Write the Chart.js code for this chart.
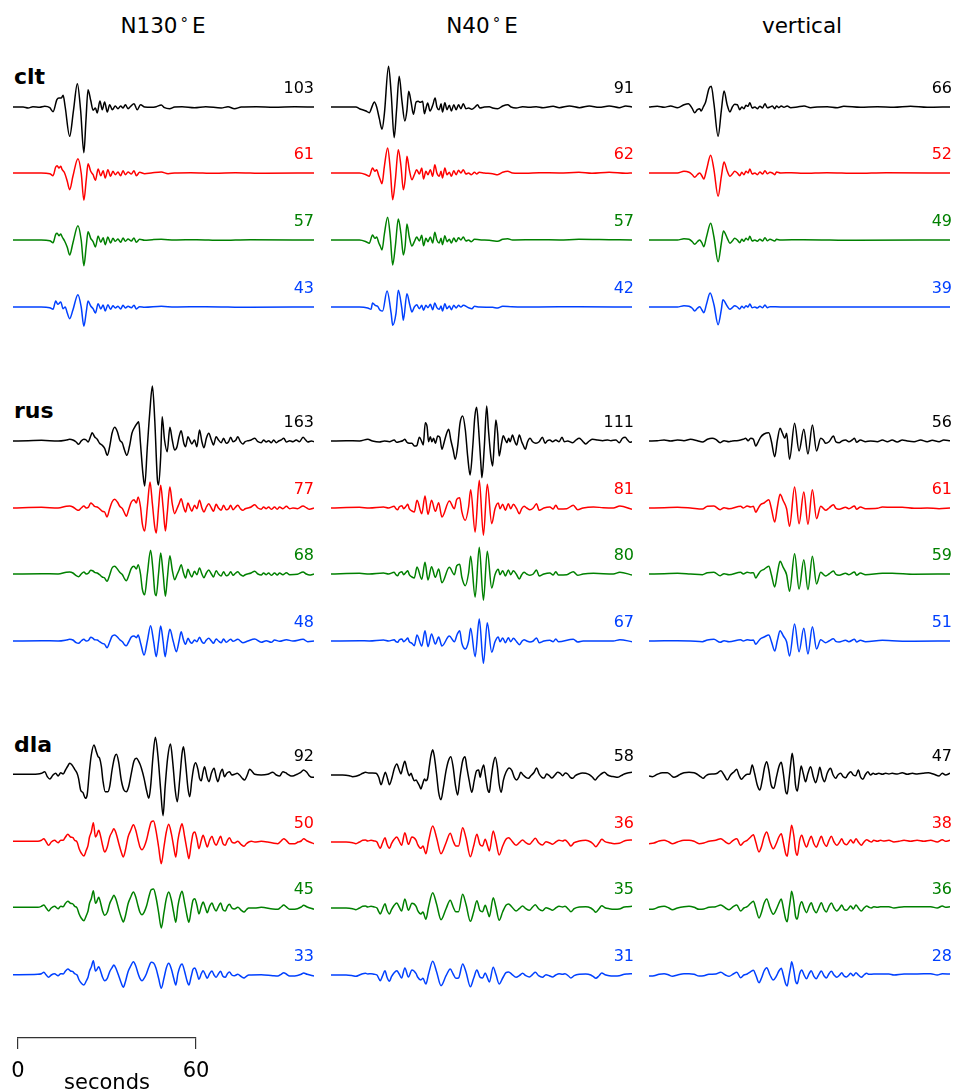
<!DOCTYPE html>
<html>
<head>
<meta charset="utf-8">
<script src="https://cdn.jsdelivr.net/npm/chart.js@4.4.0/dist/chart.umd.min.js"></script>
<style>
  body { margin: 0; background: #fff; }
  #page { position: relative; width: 954px; height: 1091px; overflow: hidden; font-family: "DejaVu Sans", sans-serif; }
  canvas { position: absolute; }
  .lbl { position: absolute; white-space: nowrap; }
  .comp { font-size: 21.5px; line-height: 22px; width: 200px; text-align: center; top: 15px; }
  .deg { font-size: 15px; margin: 0 4px 0 3px; position: relative; top: -4px; }
  .sta { font-size: 22px; font-weight: bold; line-height: 22px; left: 14px; }
  .amp { font-size: 16px; line-height: 16px; width: 60px; text-align: right; }
</style>
</head>
<body>
<div id="page"></div>
<script>
// stations (rows) and components (columns)
const stations = ['clt', 'rus', 'dla'];
const components = ['N130', 'N40', 'vertical'];

// peak amplitudes printed next to each trace: [black, red, green, blue] per component
const clt_amps = [[103, 61, 57, 43], [91, 62, 57, 42], [66, 52, 49, 39]];
const rus_amps = [[163, 77, 68, 48], [111, 81, 80, 67], [56, 61, 59, 51]];
const dla_amps = [[92, 50, 45, 33], [58, 36, 35, 31], [47, 38, 36, 28]];

// time window of every trace (s) and the scale bar ticks
const timeRange = [0, 101.5];
const scaleTicks = [0, 60];

// waveforms: [time s, amplitude] (plot units)
const clt_n130_k = [[0,0],[3.4,0],[5.1,-1],[6.7,0.3],[9,-0.3],[10.7,0.7],[12.4,-0.7],[13.5,-4.7],[14.8,7.3],[15.5,9],[16.3,9],[16.9,11.7],[17.6,0],[19.1,-29.3],[20.4,-3.3],[21.7,23.3],[22.8,-3.3],[23.9,-45.7],[24.6,-13.3],[25.3,17.3],[26.2,6.7],[27,-3.3],[27.8,-1],[28.4,-6],[29.3,6],[30.1,-2.7],[30.9,5],[31.8,-5],[32.6,2.3],[33.5,-2.7],[34.5,1],[35.4,-1.7],[36.3,1],[37.1,-1],[37.9,2.3],[38.8,-1.7],[39.7,0.7],[40.8,3.3],[41.9,-2.7],[43,2.3],[44.4,0],[46.6,-0.3],[48.3,0.3],[50,2],[51.1,-0.7],[52.8,-1.7],[54.5,0],[57,0.3],[61.2,-0.7],[65,0.3],[70.2,-1],[72.5,0.3],[74.7,-1.7],[77,0],[82,0.3],[88,-0.3],[95,0.3],[101.5,0]];
const clt_n130_r = [[0,0],[9.5,0],[12.4,-0.7],[13.5,-2.7],[14.4,6],[14.9,7.3],[15.5,5],[16.1,6.7],[16.6,3.3],[17.4,0],[18.3,-8.3],[19.1,-16.7],[20.2,-3.3],[21.9,14.3],[23,0],[23.9,-27.3],[24.7,-6.7],[25.3,9.3],[26.2,1.7],[27,-1.7],[27.8,-7.3],[28.7,4],[29.6,-2.7],[30.4,2.3],[31.1,-5],[32,3.3],[32.9,-3.3],[33.7,1.7],[34.5,-1.7],[35.4,1],[36.3,-2.7],[37.1,2.3],[37.9,-1.7],[38.8,1],[39.9,-1],[40.8,2.3],[41.6,-2.7],[42.7,0.7],[44.4,-0.7],[46.6,0],[50,1],[52.3,-0.7],[54.5,0],[60,0.3],[68,-0.3],[75,0.3],[85,-0.3],[101.5,0]];
const clt_n130_g = [[0,0],[9.5,0],[12.4,-0.7],[13.5,-2.7],[14.4,5.7],[14.9,6.7],[15.5,4.3],[16.1,6],[16.6,3],[17.4,-1],[18.3,-7.3],[19.1,-15],[20.2,-3],[21.9,14.3],[23,0],[23.9,-25.7],[24.7,-6],[25.3,8.3],[26.2,1.7],[27,-1.7],[27.8,-7],[28.7,4],[29.6,-2.3],[30.4,2.3],[31.1,-4.7],[32,3],[32.9,-3],[33.7,1.7],[34.5,-1.3],[35.4,1],[36.3,-2.3],[37.1,2],[37.9,-1.3],[38.8,1],[39.9,-1],[40.8,2],[41.6,-2.3],[42.7,0.7],[44.4,-0.3],[47,0.3],[50,0.7],[54.5,0],[62,0.3],[70,-0.3],[80,0.3],[101.5,0]];
const clt_n130_b = [[0,0],[9.5,0],[12.4,-0.7],[13.5,-2.3],[14.4,6],[15.1,2.7],[16.1,5],[16.9,-1.7],[17.6,0],[18.3,-6],[19.1,-11.7],[20.2,-3],[21.9,12.3],[23,0],[23.9,-19.3],[24.7,-5],[25.3,6],[26.2,1],[27,-1.7],[27.8,-6],[28.7,3.3],[29.6,-2],[30.4,2],[31.1,-4],[32,2.3],[32.9,-2.3],[33.7,1.3],[34.5,-1],[35.4,0.7],[36.3,-2],[37.1,1.7],[37.9,-1],[38.8,0.7],[39.9,-0.7],[40.8,1.7],[41.6,-2],[42.7,0.3],[44.4,-0.3],[50,0.7],[54.5,0],[65,0.3],[80,-0.3],[101.5,0]];

const clt_n40_k = [[0,0],[8.4,0],[9.6,-1.7],[11.8,-4],[12.9,-5.7],[14,1.7],[14.6,5],[15.4,0],[16.3,-11.7],[17.2,-22.3],[18,-6.7],[19.4,40.7],[20.3,13.3],[21.3,-30.7],[22.1,-3.3],[23,30.7],[23.9,6.7],[24.9,-14],[25.6,-3.3],[26.2,15.7],[27,5],[27.8,-7.3],[28.7,5],[29.4,5.7],[30.1,4.7],[30.9,5.7],[31.5,-6.7],[32,-1.7],[32.6,4],[33.4,-4],[34.3,1.7],[35.1,9],[35.7,0],[36.5,-2.7],[37.1,3.3],[37.6,-5],[38.4,4.3],[39.1,-2.7],[39.9,1.7],[40.6,-4],[41.4,2.3],[42.2,-2.7],[43,2.3],[43.8,-1.7],[44.6,3.3],[45.5,-1.7],[46.4,-1],[47.5,-2.3],[48.6,0],[49.4,2.3],[50.2,-1],[51.7,0],[53.4,0.3],[54.5,-1],[56.2,-1.7],[57.9,1],[59.6,2.3],[60.7,0],[62.4,-1],[64.6,0.3],[66.9,-0.3],[69.2,0.3],[71.5,-0.7],[74.9,0.7],[77,-0.7],[80.4,1],[83.8,-0.7],[87.1,1],[90.4,-0.3],[93.8,1],[97.2,-0.7],[99.4,1],[101.5,0]];
const clt_n40_r = [[0,0],[9.6,0],[11.8,-1.7],[12.9,-3.3],[14,5],[14.8,1.7],[15.4,3.3],[16.1,-2.7],[16.6,-6.7],[17.2,-10.7],[18,6.7],[19.1,25],[20,3.3],[20.8,-26.7],[21.7,-6.7],[22.7,23.3],[23.6,6.7],[24.4,-16.7],[25,-6.7],[25.6,16.7],[26.4,3.3],[27.3,-6.7],[28.1,-1.7],[28.9,3.3],[29.8,-1],[30.6,5],[31.2,-6],[32,1.7],[32.7,-1.7],[33.5,3.3],[34.3,-3.3],[35,8.3],[35.7,0],[36.5,-3.3],[37.1,1.7],[37.6,-5],[38.4,5],[39.1,-1.7],[39.9,0.7],[40.6,-3.3],[41.4,2.3],[42.2,-1.7],[43,2.7],[43.8,0],[44.6,3.3],[45.5,-1],[46.4,0],[47.3,-1.7],[48.4,0.7],[49.1,-1],[50,0.7],[51.7,0],[54.5,-0.7],[56.2,-1.7],[57.9,0.7],[59.6,1.7],[61.2,0],[65.7,-0.3],[70.2,0.3],[76.9,0],[83.6,0.7],[88,-0.3],[93.8,0.7],[99.4,-0.3],[101.5,0]];
const clt_n40_g = [[0,0],[9.6,0],[11.8,-1.7],[12.9,-3.3],[14,5],[14.8,1.7],[15.4,3],[16.1,-2.7],[16.6,-6],[17.2,-10],[18,6],[19.1,22.7],[20,3],[20.8,-25],[21.7,-6],[22.7,21],[23.6,6],[24.4,-15],[25,-6],[25.6,16],[26.4,3],[27.3,-6],[28.1,-1.7],[28.9,3],[29.8,-1],[30.6,4.7],[31.2,-5.7],[32,1.7],[32.7,-1.7],[33.5,3],[34.3,-3],[35,7.7],[35.7,0],[36.5,-3],[37.1,1.7],[37.6,-4.7],[38.4,4.3],[39.1,-1.7],[39.9,0.7],[40.6,-3],[41.4,2],[42.2,-1.7],[43,2.3],[43.8,0],[44.6,3],[45.5,-1],[46.4,0],[47.3,-1.7],[48.4,0.7],[50,0.3],[54.5,-0.7],[56.2,-1.3],[57.9,0.7],[59.6,1.3],[61.2,0],[70,0.3],[77,0],[83.6,0.7],[93.8,0.3],[101.5,0]];
const clt_n40_b = [[0,0],[9.6,0],[12.4,-1],[13.5,-2.3],[14,4],[14.9,1.7],[15.7,0.7],[16.6,-3.3],[17.4,-4],[18.9,16],[20.3,-6.7],[20.8,-18.3],[21.9,-6.7],[22.7,16.7],[23.9,-1.7],[24.4,-13.3],[25.6,13.3],[26.6,1.7],[27.3,-5],[28.1,0],[28.9,2.3],[29.8,-1.7],[30.6,1.7],[31.2,-3.3],[32,1.7],[32.7,-0.7],[33.5,2.7],[34.3,-2.7],[35,4],[35.7,-0.7],[36.5,-2.3],[37.1,1],[37.6,-4],[38.4,3.3],[39.1,-1.7],[39.9,1],[40.6,-2.7],[41.4,1.7],[42.2,-1],[43,1.7],[43.8,0],[44.6,1.7],[46.4,-0.7],[47.5,-1.7],[48.4,0.7],[50,0],[54.5,-0.3],[56.2,-1],[57.9,0.7],[61,0.3],[70,0],[83.6,0.3],[101.5,0]];

const clt_z_k = [[0,0],[2.8,0.7],[5.1,-0.3],[7.3,1],[9.6,-0.7],[11.8,2.3],[13.3,3.3],[14.6,-1.7],[15.4,-5.7],[16.3,-2.7],[17.1,-1.7],[17.6,-4],[18.3,0],[19.1,5],[20.2,18.3],[21,20.7],[21.9,3.3],[23.3,-29.3],[24.4,-3.3],[25.3,16],[26.4,1.7],[27.3,-5],[28.1,0],[28.9,2.7],[29.8,2.3],[30.6,-2.7],[31.3,0],[32,-1.7],[32.7,1.7],[33.4,0.7],[34,4.3],[34.8,-1],[35.7,0],[36.5,-1.7],[37.4,0.7],[38.3,-1],[39.1,3.3],[39.9,-0.7],[40.8,0],[41.6,1],[42.4,-1.7],[43,1],[43.8,-0.7],[44.6,1],[45.5,-0.3],[46.6,1],[47.8,-0.7],[50,0],[52.3,1],[54.5,-0.7],[56.7,0],[60.1,0.3],[63.5,-0.7],[65.7,0.7],[71.3,-0.3],[77,0.3],[82.6,-0.3],[88.2,0.7],[93.8,-0.3],[101.5,0]];
const clt_z_r = [[0,0],[9.6,0],[11.8,1.7],[13.5,0.7],[14.6,-1.7],[15.4,-4.3],[16.3,-1.7],[17.1,0],[17.8,-2.7],[18.5,-6],[19.4,3.3],[20.8,17.7],[21.9,3.3],[23.3,-23.3],[24.4,-3.3],[25.3,11],[26.4,1.7],[27.3,-3.3],[28.1,-1],[28.9,1.7],[29.8,0],[30.6,-2.7],[31.3,0.7],[32,-1.7],[32.7,1.7],[33.4,0],[34,4],[34.8,-1],[35.7,0],[36.5,-1.7],[37.4,1],[38.3,-1],[39.1,2.3],[39.9,-0.7],[40.8,0.7],[41.6,0],[42.4,-1.7],[43,1],[44.4,0],[48,0.3],[52,-0.3],[60,0.3],[70,-0.3],[80,0.3],[101.5,0]];
const clt_z_g = [[0,0],[9.6,0],[11.8,1.3],[13.5,0.7],[14.6,-1.7],[15.4,-4.3],[16.3,-1.7],[17.1,0],[17.8,-2.7],[18.5,-6.7],[19.4,3.3],[20.8,16.7],[21.9,3],[23.3,-21.7],[24.4,-3],[25.1,9],[26.4,1.7],[27.3,-3.3],[28.1,-1],[28.9,1.7],[29.8,0],[30.6,-2.7],[31.3,0.7],[32,-1.3],[32.7,1.7],[33.4,0],[34,3.7],[34.8,-1],[35.7,0],[36.5,-1.3],[37.4,0.7],[38.3,-1],[39.1,2.3],[39.9,-0.7],[40.8,0.7],[42.4,-1],[43,0.7],[44.4,0],[52,0.3],[70,-0.3],[101.5,0]];
const clt_z_b = [[0,0],[9.6,0],[11.8,1.3],[13.5,0.7],[14.6,-1.3],[15.4,-4],[16.3,-1.3],[17.1,0.3],[17.8,-2.7],[18.5,-5.7],[19.4,3],[20.6,14],[21.9,2.3],[23.3,-17.7],[24.4,-2.3],[24.9,7.3],[26.4,0.7],[27.3,-2.3],[28.1,-0.7],[28.9,1.3],[29.8,0],[30.6,-2],[31.3,0.7],[32,-1],[32.7,1.3],[33.4,0],[34,3],[34.8,-0.7],[35.7,0],[36.5,-1],[37.4,0.7],[38.3,-0.7],[39.1,2],[39.9,-0.7],[40.8,0.3],[44.4,0],[101.5,0]];

const rus_n130_k = [[0,0],[5.1,0.3],[9.6,0.7],[15.2,0],[18,1],[19.1,1.7],[20.2,1],[21.3,-1],[22.1,-3.3],[23,0],[23.9,1.7],[24.7,1],[25.3,-1],[26.2,5],[26.7,8.3],[27.5,4.3],[28.4,1.7],[29.2,-2.3],[30.1,-4.3],[30.9,-7.3],[31.8,-14.3],[32.6,-5.7],[33.4,7.7],[34.3,13.7],[35.2,9.3],[36,1],[36.9,-2.3],[37.6,-9],[38.4,-14.3],[39.3,-5],[40.1,7.7],[41,13.7],[41.9,17.7],[42.4,19.3],[42.9,1],[43.8,-32.3],[44.4,-45],[45.3,-5.7],[46.1,27.7],[47,55],[47.8,21],[48.7,-39],[49.1,-44],[49.8,-15.7],[50.3,24.3],[51.1,1],[52,-10.7],[52.9,13.7],[53.7,1],[54.5,-9],[55.3,-5.7],[56,4.3],[56.7,10.3],[57.6,-2.3],[58.2,-5.7],[59,4.3],[59.7,0.3],[60.3,-3],[61.2,1],[62,-5.7],[62.9,11],[63.7,-0.7],[64.4,-6.7],[65.2,2.7],[66,7.7],[66.9,1],[67.6,-4],[68.5,4.3],[69.3,1],[70.2,-1.7],[71,2.7],[71.9,-2.3],[72.7,-0.7],[73.4,3.7],[74.2,-0.7],[75.1,0.7],[75.8,4.3],[76.7,-0.7],[77.5,-3],[78.3,-0.7],[79.2,0.3],[80.3,1],[81.5,2.7],[82.6,-0.7],[83.7,-1.7],[84.5,1],[85.4,-1],[86.2,0.3],[87.1,-1.7],[87.9,1],[88.8,-1.7],[89.6,0],[90.4,1],[91.3,2.7],[92.2,-1],[93.3,0.3],[94.4,-0.7],[95.5,1],[96.6,-0.7],[97.8,3.7],[98.7,1],[99.4,-1],[100.6,0],[101.5,-0.7]];
const rus_n130_r = [[0,0],[9.6,0.7],[15.2,0],[18,1.7],[19.1,2],[20.2,1],[21.3,-1.3],[22.1,-2.3],[23,0],[23.9,2],[24.7,0],[25.5,1],[26.2,5],[27,3.3],[27.5,1.7],[28.4,1],[29.2,-0.7],[30.1,-3.3],[30.9,-4],[31.7,-9],[32.6,-0.7],[33.4,6],[34.3,8.7],[35.2,6],[36,1.7],[36.9,-0.7],[37.6,-5],[38.2,-8.3],[39,-1.7],[39.9,6],[40.8,8.3],[41.6,5],[42.2,11],[43,1],[43.6,-15.7],[44.4,-23],[45.3,1],[46.2,26],[47,4.3],[47.8,-19],[48.3,-25],[49.1,1],[49.8,22.7],[50.6,1],[51.4,-23],[52,-5.7],[52.9,21],[53.7,4.3],[54.5,-5.7],[55.3,-0.7],[56,4.3],[56.7,9.3],[57.5,1],[58.2,-4],[59,5],[59.7,0.3],[60.3,-3.3],[61.2,2.7],[62,-0.7],[62.9,7.7],[63.7,0],[64.4,-4],[65.2,1],[66,4.3],[66.9,0],[67.6,-3.3],[68.5,3.7],[69.3,0],[70.2,-2.3],[71,2.7],[71.9,-1.7],[72.7,-0.7],[73.4,2.7],[74.2,-1.7],[75.1,1],[75.8,2.7],[76.7,-0.7],[77.5,-2.3],[78.3,-0.7],[79.2,0],[80.3,1],[81.5,3.3],[82.6,0],[83.7,-1.3],[84.5,1],[85.4,-0.7],[86.2,1],[87.1,-1.3],[88.2,1],[89.1,-1.3],[89.9,1],[91,-0.7],[92.2,1.7],[93.3,-0.7],[94.4,0],[95.9,-0.7],[97.8,2],[98.9,0.3],[100,-1.3],[101.5,0]];
const rus_n130_g = [[0,0],[9.6,0.3],[15.2,0],[18,1.7],[19.1,2],[20.2,1],[21.3,-1.7],[22.1,-2.7],[23,0],[23.9,2],[24.7,0],[25.5,1],[26.2,3.7],[27,3],[27.5,1.7],[28.4,1],[29.2,-0.7],[30.1,-3],[30.9,-4],[31.7,-7.3],[32.6,-1],[33.4,6],[34.3,7.7],[35.2,5],[36,1.7],[36.9,-0.7],[37.6,-4.7],[38.2,-6.7],[39,-1.7],[39.9,5.7],[40.8,7.7],[41.6,5],[42.2,9.3],[43,0],[43.6,-15],[44.4,-20.7],[45.3,0],[46.4,23.7],[47.2,4],[47.8,-18],[48.3,-21.7],[49.1,1],[49.8,21],[50.6,1],[51.4,-22.3],[52,-5.7],[52.9,18.3],[53.7,4],[54.5,-5.7],[55.3,-0.7],[56,4],[56.7,9.3],[57.5,1],[58.2,-4],[59,4.7],[59.7,0],[60.3,-3],[61.2,2.7],[62,-0.7],[62.9,6],[63.7,0],[64.4,-3.7],[65.2,1],[66,4],[66.9,0],[67.6,-3],[68.5,3.3],[69.3,0],[70.2,-2],[71,2.3],[71.9,-1.7],[72.7,-0.7],[73.4,2.3],[74.2,-1.3],[75.1,1],[75.8,2.3],[76.7,-0.7],[77.5,-2],[78.3,-0.7],[80.3,1],[81.5,2.7],[82.6,0],[83.7,-1],[84.5,1],[85.4,-0.7],[86.2,1],[87.1,-1.3],[88.2,1],[89.1,-1],[89.9,1],[91,-0.7],[92.2,1.3],[93.3,-0.7],[95.9,-0.3],[97.8,2],[98.9,0],[100,-1],[101.5,0]];
const rus_n130_b = [[0,0],[9.6,0.3],[15.2,0],[18,1],[19.1,1.7],[20.2,1],[21.3,-1.7],[22.1,-2.3],[23,0],[23.9,1.7],[24.7,0],[25.5,0.7],[26.2,3.7],[27,2.7],[27.5,1.3],[28.4,1],[29.2,-0.7],[30.1,-2.3],[30.9,-3.3],[31.7,-6.7],[32.6,-1],[33.4,4.7],[34.3,6],[35.2,4],[36,1.3],[36.9,-0.7],[37.6,-3.7],[38.2,-4.7],[39,-1],[39.9,4],[40.8,5],[41.6,3.3],[42.2,6],[43.1,-3],[44.2,-14],[45.3,0],[46.4,15.3],[47.4,0],[48.3,-15.7],[49.1,0],[49.8,15],[50.6,0],[51.3,-15.7],[52.1,0],[52.9,11.7],[54,0],[55.1,-10.7],[56,0],[56.7,9.3],[57.5,1],[58.2,-3.3],[59,2.7],[59.7,-0.7],[60.3,-2.3],[61.2,1],[62,-0.7],[62.9,3.7],[63.7,-0.7],[64.4,-2.3],[65.2,1],[66,2.7],[66.9,0],[67.6,-2.3],[68.5,2],[69.3,0],[70.2,-1.7],[71,2],[71.9,-1.3],[73.4,1.7],[74.2,-0.3],[75.8,1.7],[77.5,-1.7],[79.2,0],[81.5,2],[83.7,-1.3],[85.4,0.3],[87.1,-1.3],[88.2,1],[89.9,-0.3],[92.2,1.3],[94.4,0],[97.8,1.7],[99.4,-0.7],[101.5,0]];

const rus_n40_k = [[0,0],[5.1,0.3],[9.6,0],[12.4,1.7],[14,0],[16.3,-1],[18,0],[19.7,-0.7],[21.3,1],[22.1,-1.3],[23,-0.7],[24.2,0.3],[24.9,1.7],[25.6,-1.3],[26.4,-2.3],[27.3,-2.3],[28.1,-5],[28.9,-4.7],[29.8,3.7],[30.6,-0.7],[31.1,-4],[31.8,18.3],[32.4,14.3],[32.9,-0.7],[33.5,4.3],[34,-0.7],[34.6,2.7],[35.2,-2.3],[36,5],[36.7,3.7],[37.4,-8.3],[38.2,-0.7],[39,7.7],[39.7,11.7],[40.4,1],[41.2,-9],[41.9,-18.3],[42.7,-5.7],[43.5,17.7],[44.4,25],[45.3,11],[46.1,-15.7],[46.9,-34],[47.8,-5.7],[48.5,24.3],[49.1,33.7],[49.8,11],[50.6,-25.7],[50.9,-36.7],[51.7,-5.7],[52.5,35],[53.1,11],[53.9,-15.7],[54.5,-25],[55.1,1],[55.6,21],[56.2,7.7],[56.7,-15],[57.5,-2.3],[58.1,5.3],[58.8,1],[59.3,-1.7],[59.9,2.7],[60.4,-0.7],[61.2,6],[61.8,1],[62.6,-4],[63.5,6],[64.3,-0.7],[64.8,-4],[65.5,-8.3],[66.3,-0.7],[67.1,2.7],[68,-0.7],[69.1,-2.3],[70.2,-0.7],[71.3,3.7],[72.2,-2.3],[73,0.3],[73.8,1],[74.7,-0.7],[75.8,1],[76.9,-0.7],[77.9,3.7],[78.7,-0.7],[79.8,0],[81.5,-1.7],[82.6,1],[83.7,2.7],[84.5,1],[85.2,-1.3],[85.9,-3],[87.1,0],[88.2,1.7],[89.9,1],[91.6,0.3],[93.3,1],[94.4,0.3],[96.1,1],[97.2,-1.7],[98.3,2.7],[99.2,3.7],[100,1],[100.8,-1.3],[101.5,-0.7]];
const rus_n40_r = [[0,0],[9.6,0.7],[12.9,0],[17.7,1],[19.4,0],[21.3,1.7],[21.9,-0.7],[22.5,-1.7],[23,1],[23.9,2.3],[24.5,-0.7],[25.3,1.7],[25.9,3.7],[26.4,-0.7],[27.3,-3],[28.1,-4],[29,7.7],[30.6,-5.7],[31.7,12],[32.7,-6.3],[33.9,7.7],[35.2,-3.3],[36.3,5.3],[37.4,-9],[39.9,7],[41.6,-0.7],[42.4,8.7],[43.4,10.3],[44.1,-3.3],[45.3,-12.3],[46.4,1],[47.1,18.3],[48.6,-24],[50,27.7],[51.4,-27.3],[52.7,23.7],[54.2,-15.7],[55.3,-0.7],[56.4,5],[57,-0.7],[57.9,3.7],[58.8,-2.3],[59.8,4.3],[60.6,-0.7],[61.5,3.7],[62.6,-0.7],[63.5,-5.7],[64.3,-0.7],[65.1,1.7],[66,0],[67.1,-1.7],[68.2,0],[69.3,4.3],[70.2,-2.3],[71.8,0],[73.8,1],[74.9,-1],[75.8,2.7],[76.7,-1],[79.5,-0.7],[81.7,2.7],[83.2,-1.7],[85,0],[88.5,1],[91.8,0.3],[95.2,0],[97.4,2],[101.5,-1.3]];
const rus_n40_g = [[0,0],[9.6,0.7],[12.9,0],[17.7,1],[19.4,0],[21.3,1.7],[21.9,-0.7],[22.5,-1.7],[23,1],[23.9,2.3],[24.5,-0.7],[25.3,1.7],[25.9,3.3],[26.4,-0.7],[27.3,-3],[28.1,-4],[29,7],[30.6,-5.3],[31.7,11.7],[32.7,-6],[33.9,7.3],[35.2,-3.3],[36.3,5],[37.4,-8.7],[39.9,6.7],[41.6,-0.7],[42.4,8.3],[43.4,9.7],[44.1,-3],[45.3,-11.7],[46.4,1],[47.1,17.7],[48.6,-23],[50,26.7],[51.4,-26.3],[52.7,22.7],[54.2,-14],[55.3,-0.7],[56.4,4.7],[57,-0.7],[57.9,3.3],[58.8,-2],[59.8,4],[60.6,-0.7],[61.5,3.3],[62.6,-0.7],[63.5,-5],[64.3,-0.7],[65.1,1.7],[66,0],[67.1,-1.3],[68.2,0],[69.3,4],[70.2,-2],[71.8,0],[73.8,1],[74.9,-1],[75.8,2.3],[76.7,-1],[79.5,-0.7],[81.7,2.3],[83.2,-1.3],[85,0],[88.5,0.7],[95.2,0],[97.4,1.7],[101.5,-1]];
const rus_n40_b = [[0,0],[9.6,0.3],[12.9,0],[17.7,1],[19.4,0],[21.3,1.3],[21.9,-0.7],[22.5,-1.3],[23,1],[23.9,2],[24.5,-0.7],[25.3,1.3],[25.9,3],[26.4,-0.7],[27.3,-2.3],[28.1,-4.7],[29,6],[30.6,-5],[31.7,10.3],[32.7,-5.7],[33.9,7],[35.2,-3],[36.3,4],[37.4,-5],[39.9,5],[41.6,-0.7],[42.6,7],[43.4,10.3],[44.1,-2],[45.3,-8],[46.4,0],[47.1,12.7],[48.6,-15.7],[50,22],[51.4,-22.3],[52.7,18.3],[54.2,-11.3],[55.3,-0.7],[56.4,4],[57,-0.7],[57.9,3],[58.8,-1.7],[59.8,3.3],[60.6,-0.7],[61.5,2.7],[62.6,-0.7],[63.5,-3.7],[64.3,-0.7],[65.1,1.3],[66,0],[67.1,-1],[68.2,0],[69.3,3],[70.2,-1.7],[71.8,0],[73.8,0.7],[74.9,-0.7],[75.8,2],[76.7,-0.7],[81.7,1.7],[83.2,-1],[85,0],[95.2,0],[97.4,1.3],[101.5,-0.7]];

const rus_z_k = [[0,0],[2.8,0.3],[5.1,1],[7.3,0],[9.6,1],[11.8,0.3],[14,1.7],[16.3,0.3],[18,-1],[19.7,1.7],[21.3,2.7],[22.5,1.7],[24,-1.7],[25.3,0.3],[27,-0.7],[28.1,0],[29.6,0.3],[30.9,1],[31.8,1.7],[32.6,2.7],[33.4,0.3],[34.3,2.7],[35.2,1.7],[36,-5],[36.7,-1.7],[37.6,3.7],[38.8,7],[40.4,8.3],[41.3,-0.7],[42.4,-15.7],[43.3,1],[44.2,12.7],[45,7.7],[45.8,2.7],[46.4,7.7],[47.4,-18.3],[49.1,17.7],[50.6,-10],[52.2,11.7],[53.6,-13],[55.1,16],[56.5,-10],[57.9,2.7],[58.8,1],[59.6,-2.3],[60.7,-0.7],[62.2,5],[63,-0.7],[64.1,-1.7],[65.2,0.3],[66.3,1],[67.4,-0.7],[68.5,1],[69.3,2.7],[70,-1.3],[71.3,1],[73,-0.7],[74.7,0],[77,-0.7],[78.7,1],[80.4,-0.7],[82,1],[83.7,-1],[85.4,1],[87.1,0],[89.4,-0.7],[91.6,1],[93.8,-0.7],[95.5,0.7],[97.8,-0.7],[99.4,1],[101.5,0.3]];
const rus_z_r = [[0,0],[5.1,0.3],[9.6,0.7],[14,0],[18,-1],[19.7,1.7],[21.9,2],[24,-1.7],[25.3,0.3],[27,-0.7],[30.9,1.7],[31.8,0],[33.1,2],[34.3,1],[35.2,1.7],[36,-4.3],[36.7,-1],[37.6,3.3],[38.8,5],[40.4,8.3],[41.3,-1],[42.4,-14],[43.3,1],[44.2,13.7],[45.3,7],[46.4,-0.7],[47.4,-18.3],[49.1,21],[50.6,-15.7],[52.2,16],[53.6,-16.3],[55.1,18.3],[56.5,-10.7],[57.9,1.7],[59.6,-2.3],[60.7,0],[62.2,3.3],[63,-0.3],[64.1,-1.3],[66.3,0.7],[67.4,-0.7],[69.3,2],[70,-1.3],[71.3,1],[73,-0.7],[77,-0.3],[78.7,1],[82,0.7],[85.4,0.7],[89.4,-0.3],[93.8,0],[97.8,-0.7],[101.5,0]];
const rus_z_g = [[0,0],[5.1,0.3],[9.6,0.7],[14,0],[18,-0.7],[19.7,1.3],[21.9,1.7],[24,-1.7],[25.3,0.3],[27,-0.7],[30.9,1.7],[31.8,0],[33.1,1.7],[34.3,1],[35.2,1.3],[36,-4],[36.7,-1],[37.6,2.7],[38.8,4.7],[40.4,7.7],[41.3,-1],[42.4,-13],[43.3,1],[44.2,12.7],[45.3,6.3],[46.4,-0.7],[47.4,-17.3],[49.1,20.3],[50.6,-15],[52.2,14.3],[53.6,-15.7],[55.1,17.7],[56.5,-10],[57.9,1.7],[59.6,-2],[60.7,0],[62.2,3],[63,-0.3],[64.1,-1.3],[66.3,0.7],[67.4,-0.7],[69.3,2],[70,-1.3],[71.3,1],[73,-0.7],[78.7,0.7],[82,0.7],[89.4,-0.3],[101.5,0]];
const rus_z_b = [[0,0],[5.1,0.3],[9.6,0.3],[14,0],[18,-0.7],[19.7,1],[21.9,1.7],[24,-1.3],[25.3,0.3],[27,-0.7],[30.9,1.3],[31.8,0],[33.1,1.3],[34.3,0.7],[35.2,1],[36,-3.3],[36.7,-1],[37.6,2.3],[38.8,4],[40.4,6],[41.3,-0.7],[42.4,-10],[43.3,0.7],[44.2,10.3],[45.3,5],[46.4,-0.7],[47.4,-15],[49.1,17],[50.6,-10.7],[52.2,12.7],[53.6,-13],[55.1,14.3],[56.5,-8],[57.9,1.3],[59.6,-1.7],[60.7,0],[62.2,2.3],[63,-0.3],[64.1,-1],[66.3,0.7],[67.4,-0.7],[69.3,1.7],[70,-1],[71.3,0.7],[73,-0.7],[78.7,0.7],[82,0.3],[89.4,-0.3],[101.5,0]];

const dla_n130_k = [[0,0.7],[3.9,0.7],[8.4,1],[9.6,1.7],[10.7,3.3],[11.6,-1.7],[12.4,-4],[13.5,0],[14.4,1.7],[15.2,-1],[16.1,2.3],[16.9,1],[17.7,5],[18.5,9],[19.1,11.7],[19.9,10],[20.8,5.7],[21.6,1.7],[22.1,-3.3],[22.8,-15],[23.6,-17.7],[24.4,-23.3],[25,-20],[25.8,5],[26.4,20],[27.3,30],[28.1,23.3],[28.7,18.3],[29.2,16.7],[29.8,8.3],[30.3,-5],[31.1,-16.7],[32,-16.7],[32.6,-11.7],[33.4,5],[34.3,18.3],[34.9,20.7],[35.7,11.7],[36.5,-5],[37.4,-15],[38.2,-16.7],[39,-11.7],[39.9,1.7],[40.8,14],[41.6,16.7],[42.7,11.7],[43.3,6.7],[44.2,-3.3],[45,-15],[45.8,-23.3],[46.4,-11.7],[47.2,18.3],[48,37.7],[48.9,18.3],[49.8,-15],[50.6,-40.7],[51.3,-11.7],[52.2,18.3],[53.1,31],[53.9,11.7],[54.7,-15],[55.4,-26.7],[56.2,-5],[57,21.7],[57.5,28.3],[58.2,11.7],[59,-13.3],[59.6,-21.7],[60.3,-5],[61,8.3],[61.6,12.3],[62.4,5],[62.9,-3.3],[63.5,-5.7],[64,1.7],[64.6,8.3],[65.4,-1.7],[66.1,-6.7],[66.9,1.7],[67.8,6.7],[68.5,-1.7],[69.1,-6.7],[69.9,1.7],[70.6,5.7],[71.3,-1.7],[72.1,1.7],[73,3.3],[73.8,0],[74.7,0.7],[75.6,1.7],[76.4,0],[77.3,-3.3],[78.1,-5],[79,0],[79.8,5.7],[80.7,3.3],[81.5,0.7],[83.7,0],[85.9,0.7],[87.6,2.7],[88.8,0],[89.9,-1],[91,3.3],[91.9,2.3],[92.7,0.7],[93.8,-1],[94.7,-0.7],[95.8,0.7],[96.9,2.3],[98,5],[99.2,2.3],[100,-1],[100.8,-2.3],[101.5,-2.3]];
const dla_n130_r = [[0,0.7],[8.4,0.7],[9.6,1.7],[10.4,3.3],[11.2,0],[12,-3.3],[12.9,0],[14,1.7],[15.2,-0.7],[16.1,1.7],[16.9,1.7],[17.7,5],[18.5,7.7],[19.4,5],[20.2,4.3],[20.8,1.7],[21.6,0],[22.3,-6.7],[23,-11],[23.9,-14],[24.7,-8.3],[25.3,-3.3],[25.8,5],[26.4,10],[27.1,19.3],[27.8,5],[28.2,6.7],[28.9,11.7],[29.6,5],[30.2,-3.3],[30.9,-10],[31.8,-5],[32.6,5],[33.4,10],[34,13.3],[34.8,8.3],[35.7,-1.7],[36.5,-10],[37.2,-15],[37.9,-8.3],[38.8,5],[39.7,11.7],[40.6,17.3],[41.4,11.7],[42.2,1.7],[42.8,-5],[43.5,-7.7],[44.2,-5],[45,1.7],[45.8,11.7],[46.6,20],[47.4,21],[48.2,11.7],[49.1,-5],[50,-21.7],[50.9,-5],[51.7,10],[52.5,17.7],[53.4,8.3],[54.2,-5],[54.9,-15],[55.6,1.7],[56.4,13.3],[57,18.3],[57.9,5],[58.7,-8.3],[59.3,-16.7],[60.1,-1.7],[60.7,8.3],[61.3,10],[62,3.3],[62.7,-6.7],[63.5,1.7],[64.1,6.7],[64.9,0],[65.5,-5],[66.3,1.7],[67.1,5.7],[67.8,0],[68.5,-3.3],[69.3,1.7],[70,5.7],[70.8,-1.7],[71.6,-3.3],[72.3,1.7],[73,4.3],[73.8,0],[74.7,-1],[75.8,0.7],[77,-2.7],[77.9,-4.3],[78.7,-1.7],[79.5,0],[80.4,0.7],[81.5,0],[83.7,0.7],[85.9,0],[87.6,-1],[89.3,-1.7],[90.4,1],[91.3,3.3],[92.1,1.7],[93.3,-1.7],[95,-1.7],[96.1,0],[97.2,1],[98,3.3],[99.2,1],[100,0],[101.5,-1.7]];
const dla_n130_g = [[0,0.7],[8.4,0.7],[9.6,1.7],[10.4,3],[11.2,0],[12,-3],[12.9,0],[14,1.7],[15.2,-0.7],[16.1,1.7],[16.9,1.3],[17.7,4.7],[18.5,6.7],[19.4,4.7],[20.2,4],[20.8,1.7],[21.6,0],[22.3,-6],[23,-10],[23.9,-12.7],[24.7,-7.7],[25.3,-3],[25.8,4.7],[26.4,9.3],[27.1,17.3],[27.8,4.7],[28.2,6],[28.9,10.7],[29.6,4.3],[30.2,-3],[30.9,-7.3],[31.8,-4.3],[32.6,4.3],[33.4,9.3],[34,12.7],[34.8,8],[35.7,-1.7],[36.5,-9.3],[37.2,-14],[37.9,-8],[38.8,4.3],[39.7,11],[40.6,16],[41.4,11],[42.2,1.7],[42.8,-4.3],[43.5,-6.7],[44.2,-4.3],[45,1.7],[45.8,11],[46.6,18.3],[47.4,19],[48.2,11],[49.1,-4.3],[50,-20],[50.9,-4.7],[51.7,9.3],[52.5,16],[53.4,8],[54.2,-4.7],[54.9,-14.3],[55.6,1.7],[56.4,12.7],[57,16.7],[57.9,4.7],[58.7,-8],[59.3,-14.3],[60.1,-1.7],[60.7,7.7],[61.3,9.3],[62,3],[62.7,-6],[63.5,1.7],[64.1,6],[64.9,0],[65.5,-4.7],[66.3,1.7],[67.1,5],[67.8,0],[68.5,-3],[69.3,1.7],[70,5],[70.8,-1.7],[71.6,-3],[72.3,1.7],[73,3.7],[73.8,0],[74.7,-1],[75.8,0.7],[77,-2.3],[77.9,-4],[78.7,-1.7],[79.5,0],[81.5,0],[83.7,0.7],[87.6,-1],[89.3,-1.3],[90.4,1],[91.3,3],[92.1,1.3],[93.3,-1.3],[95,-1.3],[97.2,1],[98,2.7],[99.2,1],[101.5,-1.3]];
const dla_n130_b = [[0,0.3],[8.4,0.7],[9.6,1.3],[10.4,2.7],[11.2,0],[12,-2.3],[12.9,0],[14,1.3],[15.2,-0.7],[16.1,1.3],[16.9,1],[17.7,4],[18.5,6],[19.4,4],[20.2,3.3],[20.8,1.3],[21.6,0],[22.3,-5],[23,-8],[23.9,-10],[24.7,-6],[25.3,-2.3],[25.8,4],[26.4,8],[27.1,14.3],[27.8,4],[28.2,5],[28.9,8.3],[29.6,3.3],[30.2,-2.3],[30.9,-5.7],[31.8,-3.3],[32.6,3.3],[33.4,7.3],[34,10],[34.8,6],[35.7,-1.3],[36.5,-8],[37.2,-12.3],[37.9,-6.7],[38.8,3.3],[39.7,9],[40.6,13.3],[41.4,9],[42.2,1.3],[42.8,-3.3],[43.5,-5.7],[44.2,-3.3],[45,1.3],[45.8,8],[46.6,12.7],[47.4,12],[48.2,7],[49.1,-3.3],[50,-13.3],[50.9,-3.3],[51.7,7],[52.5,11.7],[53.4,6],[54.2,-3.3],[54.9,-10],[55.6,1.3],[56.4,9],[57,11],[57.9,3.3],[58.7,-6],[59.3,-10],[60.1,-1.3],[60.7,5.7],[61.3,7],[62,2.3],[62.7,-4.3],[63.5,1.3],[64.1,4.3],[64.9,0],[65.5,-3.3],[66.3,1.3],[67.1,4],[67.8,0],[68.5,-2.3],[69.3,1.3],[70,3.7],[70.8,-1.3],[71.6,-2.3],[72.3,1.3],[73,3],[73.8,0],[74.7,-0.7],[75.8,0.7],[77,-1.7],[77.9,-3],[78.7,-1.3],[79.5,0],[83.7,0.3],[87.6,-0.7],[89.3,-1],[90.4,0.7],[91.3,2.3],[92.1,1],[93.3,-1],[95,-1],[97.2,0.7],[98,2],[99.2,0.7],[101.5,-1]];

const dla_n40_k = [[0,0],[3.9,0],[6.2,-0.7],[7.3,-1.7],[8.4,-1.3],[9.6,0],[10.7,1.7],[11.6,2.7],[12.7,2],[14,2],[15.2,1.7],[16.1,-2.3],[16.9,-9.7],[17.7,-2.3],[18.3,2.7],[19.1,-4],[19.7,-9.7],[20.6,-2.3],[21.3,6],[22.2,11],[23,5],[23.6,1],[24.2,7.7],[24.9,13.7],[25.6,6],[26.4,-0.7],[27,1.7],[27.5,-2.3],[28.1,-5.7],[28.7,-5],[29.2,-7.3],[29.8,-10.7],[30.3,-14],[30.9,-9],[31.5,-4],[32,-5.7],[32.6,-3],[33.1,7.7],[33.7,19.3],[34.3,25.3],[34.8,19.3],[35.6,1],[36.3,-17.3],[37.1,-24.7],[37.9,-12.3],[38.8,4.3],[39.6,14.3],[40.4,18.3],[41.2,7.7],[41.9,-9],[42.7,-20],[43.5,-2.3],[44.4,14.3],[45.2,18.3],[45.8,7.7],[46.6,-5.7],[47.5,-17.3],[48.3,-5.7],[49.1,4.3],[49.8,5],[50.3,-2.3],[50.8,4.3],[51.5,10],[52,1],[52.8,-14],[53.4,-17.3],[53.9,-5.7],[54.7,11],[55.4,17.7],[56.1,7.7],[56.7,-9],[57.4,-17.3],[58.1,-5.7],[59,2.7],[60.1,7],[61,4.3],[61.8,-2.3],[62.6,-5],[63.3,-2.3],[64,2.7],[64.8,0],[65.7,-2.3],[66.6,-3.3],[67.4,-0.7],[68.5,2.7],[69.3,7],[70.2,1],[71.1,-2.3],[71.9,-3],[72.7,1],[73.6,-0.7],[74.5,-3],[75.6,0.3],[76.4,2.7],[77.3,1.7],[78.1,-0.7],[79,2],[79.8,1],[80.7,-2.3],[81.5,-3.3],[82.4,-0.7],[83.5,1],[84.8,2],[85.9,1.7],[87.1,0.3],[88.2,-2.3],[89.1,-5],[89.9,-2.3],[90.7,0],[91.6,2],[92.2,2.7],[93.3,0],[94.4,-1.3],[95.5,-1.7],[96.6,-2.3],[97.8,-0.7],[98.9,1],[100,2],[101.5,2.7]];
const dla_n40_r = [[0,0],[5.1,0],[7.3,-0.7],[8.4,-1.7],[9.6,0],[10.7,1.7],[11.6,2],[12.4,1],[13.5,1.7],[14.6,1],[15.5,0],[16.1,-4],[16.6,-6.3],[17.4,-0.7],[18.2,4.3],[18.9,-2.3],[19.7,-6.3],[20.4,-1.7],[21.3,2.7],[22.2,5],[23,1],[23.8,-3.3],[24.9,9.3],[26.1,-2.3],[27.3,5],[28.7,1.7],[29.2,-2.3],[30.3,-6.3],[31,-4],[32,-11.7],[32.9,1],[34.3,16],[35.6,4.3],[37.1,-11.7],[38.8,-0.7],[40.2,8.7],[41.2,1],[42.1,-4],[43,-4],[44.4,14.3],[45.5,4.3],[47,-14.7],[48.1,-4],[49.2,7.7],[50.2,-2.3],[51.1,-4],[52,2.7],[52.8,-4],[53.4,-9],[54.7,11],[55.6,1],[56.7,-13],[57.9,-4],[59,2.7],[59.9,4.3],[61,1],[62.4,-3.3],[63.5,-0.7],[64.6,2],[65.7,-0.7],[66.9,-2.3],[68,1],[68.9,3.7],[70,-0.7],[71.3,-3],[72.5,0.3],[73.6,-0.7],[74.7,-2.3],[75.8,0],[76.9,1.7],[78.1,1],[78.9,2],[80.1,-1.3],[80.9,-4],[82,-0.7],[83.7,1],[85.9,1.7],[87.6,0],[88.5,-2.3],[89.3,-4.7],[90.4,-0.7],[91.3,2.7],[92.4,0.3],[93.8,-0.7],[95.5,-1.7],[97.2,-1.3],[98.9,1],[100,1.7],[101.5,2]];
const dla_n40_g = [[0,0],[5.1,0],[7.3,-0.7],[8.4,-1.7],[9.6,0],[10.7,1.7],[11.6,2],[12.4,1],[13.5,1.7],[14.6,1],[15.5,0],[16.1,-3.7],[16.6,-6],[17.4,-0.7],[18.2,4.3],[18.9,-2.3],[19.7,-6],[20.4,-1.7],[21.3,2.7],[22.2,5],[23,1],[23.8,-3],[24.9,9],[26.1,-2.3],[27.3,4.7],[28.7,1.7],[29.2,-2.3],[30.3,-6],[31,-4],[32,-11.3],[32.9,1],[34.3,15.3],[35.6,4],[37.1,-11.7],[38.8,-0.7],[40.2,7.7],[41.2,1],[42.1,-3.7],[43,-3.7],[44.4,13.7],[45.5,4],[47,-13.3],[48.1,-4],[49.2,7.3],[50.2,-2.3],[51.1,-3.7],[52,2.7],[52.8,-3.7],[53.4,-8.7],[54.7,10.3],[55.6,1],[56.7,-12.3],[57.9,-3.7],[59,2.7],[59.9,4],[61,1],[62.4,-3],[63.5,-0.7],[64.6,2],[65.7,-0.7],[66.9,-2.3],[68,1],[68.9,3.3],[70,-0.7],[71.3,-2.7],[72.5,0.3],[73.6,-0.7],[74.7,-2.3],[75.8,0],[76.9,1.7],[78.1,1],[78.9,1.7],[80.1,-1.3],[80.9,-3.7],[82,-0.7],[83.7,1],[85.9,1.3],[87.6,0],[88.5,-2],[89.3,-4.3],[90.4,-0.7],[91.3,2.3],[92.4,0.3],[93.8,-0.7],[95.5,-1.3],[97.2,-1],[98.9,1],[100,1.3],[101.5,1.7]];
const dla_n40_b = [[0,0],[5.1,0],[7.3,-0.7],[8.4,-1.3],[9.6,0],[10.7,1.3],[11.6,1.7],[12.4,1],[13.5,1.3],[14.6,0.7],[15.5,0],[16.1,-3.3],[16.6,-5.7],[17.4,-0.7],[18.2,4.3],[18.9,-2.3],[19.7,-6.3],[20.4,-1.7],[21.3,2.3],[22.2,4.3],[23,1],[23.8,-3],[24.9,7],[26.1,-2],[27.3,5],[28.7,1.3],[29.2,-2],[30.3,-5],[31,-3.3],[32,-9],[32.9,1],[34.3,13.7],[35.6,3.3],[37.1,-10.7],[38.8,-0.7],[40.2,6],[41.2,1],[42.1,-3.3],[43,-3],[44.4,11],[45.5,3.3],[47,-11.7],[48.1,-3.3],[49.2,5],[50.2,-2],[51.1,-3],[52,2],[52.8,-3.3],[53.4,-7],[54.7,7.7],[55.6,0.7],[56.7,-9],[57.9,-3],[59,2.3],[59.9,3],[61,0.7],[62.4,-2.3],[63.5,-0.7],[64.6,1.7],[65.7,-0.7],[66.9,-2],[68,0.7],[68.9,2.7],[70,-0.7],[71.3,-2.3],[72.5,0.3],[73.6,-0.7],[74.7,-2],[75.8,0],[76.9,1.3],[78.1,0.7],[78.9,1.3],[80.1,-1],[80.9,-3],[82,-0.7],[83.7,0.7],[85.9,1],[87.6,0],[88.5,-1.7],[89.3,-3.3],[90.4,-0.7],[91.3,2],[92.4,0.3],[93.8,-0.7],[95.5,-1],[97.2,-0.7],[98.9,0.7],[100,1],[101.5,1.3]];

const dla_z_k = [[0,-1],[1.1,-1.7],[2.8,0.7],[4.5,2.3],[6.2,2.3],[7.3,0],[8.4,-2.3],[9.6,-1],[10.7,1],[11.8,2.3],[13.5,2.7],[15.2,2.3],[16.3,0.7],[17.4,-1.7],[18.3,-3.3],[19.1,-1],[20.2,0.7],[21.9,1],[23,1.7],[24.2,4.3],[25.3,0],[26.4,-5],[27.5,0],[28.7,3.3],[29.6,5.7],[30.3,0],[31.2,-4.3],[32,-1.7],[33.1,0.7],[34,1],[34.8,10],[35.6,1.7],[36.5,-10],[37.4,-15],[38.2,-5],[39,8.3],[39.7,13.3],[40.4,5],[41.2,-10],[42.1,-13.3],[43,-1.7],[43.8,8.3],[44.6,12.7],[45.3,1.7],[46.1,-16.7],[46.6,-19],[47.2,-5],[47.8,11.7],[48.3,21.7],[48.9,8.3],[49.4,-10],[50,-16],[50.6,-5],[51.3,9],[52,1.7],[52.8,-6.7],[53.6,1.7],[54.5,8.3],[55.4,-1.7],[56.2,-7.7],[57,0],[57.6,7.7],[58.4,-1.7],[59.2,-6.7],[60.1,1.7],[61.2,6.7],[62.1,0],[62.9,-3.3],[63.7,0],[64.6,1.7],[65.5,-1.7],[66.3,-2.7],[67.1,0.7],[68,3.3],[68.9,0],[69.7,-0.7],[70.6,5],[71.3,-1.7],[72.1,-4.3],[72.9,0],[73.8,3.3],[74.7,0],[75.6,1.7],[76.4,0.7],[77.5,1.7],[78.7,0.7],[79.8,1.7],[80.9,1],[82,1.7],[83.7,1],[85.4,2.3],[87.1,0.7],[88.8,1.7],[90.4,1],[92.4,1.7],[94.2,2.3],[96.1,0.7],[97.8,-1],[98.9,1.7],[100,0],[101.5,1.7]];
const dla_z_r = [[0,-1.7],[1.7,-1],[3.4,1],[5.1,1.7],[6.7,0],[7.9,-1.7],[9.6,0],[11.8,1.7],[13.5,1.7],[15.2,0.7],[16.9,-1.7],[18.5,-1],[20.2,0.7],[22.5,1.7],[24.2,3.3],[25.8,0],[27,-1.7],[28.4,1.7],[29.6,3.3],[30.9,-3.3],[32,0],[33.1,1.7],[34.3,5],[35.2,7.3],[36,0],[37.1,-10],[37.9,-5],[38.8,5],[39.7,10],[40.8,0],[41.9,-6.7],[42.9,-1.7],[43.8,5],[44.6,8.3],[45.3,0],[46.1,-11.7],[46.6,-14.3],[47.2,-1.7],[47.8,11.7],[48.1,16.7],[48.9,5],[49.4,-8.3],[50,-13.3],[50.8,1.7],[51.5,6.7],[52.3,0],[53.1,-5],[54,1.7],[54.7,5.7],[55.6,-1.7],[56.4,-5],[57.3,0.7],[58.1,5.7],[59,-1],[59.8,-4.3],[60.7,1.7],[61.5,5.7],[62.4,0],[63.3,-3.3],[64.3,0],[65,3.3],[65.7,-1],[66.6,-2.7],[67.4,0],[68,2.3],[68.9,-1],[69.8,3.3],[70.6,0],[71.6,-3.3],[72.5,0],[73.4,2.3],[74.2,1],[75,0],[75.8,1.7],[77,0.7],[78.1,1.7],[79,1],[80.9,1.7],[82.6,0],[84.3,0.7],[86,1.7],[88.2,0.7],[90.4,1.7],[92.7,0.7],[95,1.7],[97.2,0],[98.9,2.3],[100,0.7],[101.5,1.7]];
const dla_z_g = [[0,-1.3],[1.7,-1],[3.4,1],[5.1,1.7],[6.7,0],[7.9,-1.7],[9.6,0],[11.8,1.3],[13.5,1.7],[15.2,0.7],[16.9,-1.3],[18.5,-1],[20.2,0.7],[22.5,1.3],[24.2,3],[25.8,0],[27,-1.7],[28.4,1.3],[29.6,3],[30.9,-3],[32,0],[33.1,1.3],[34.3,4.7],[35.2,6.7],[36,0],[37.1,-10],[37.9,-4.7],[38.8,4.7],[39.7,9],[40.8,0],[41.9,-6.3],[42.9,-1.7],[43.8,4.7],[44.6,9],[45.3,0],[46.1,-11.3],[46.6,-13.7],[47.2,-1.7],[47.8,11],[48.1,16.7],[48.9,4.7],[49.4,-8],[50,-11],[50.8,1.7],[51.5,6.3],[52.3,0],[53.1,-4.7],[54,1.7],[54.7,5.3],[55.6,-1.7],[56.4,-4.7],[57.3,0.7],[58.1,5.3],[59,-1],[59.8,-4],[60.7,1.7],[61.5,5],[62.4,0],[63.3,-3],[64.3,0],[65,3],[65.7,-1],[66.6,-2.3],[67.4,0],[68,2],[68.9,-1],[69.8,3],[70.6,0],[71.6,-3],[72.5,0],[73.4,2],[74.2,0.7],[75,0],[75.8,1.3],[77,0.7],[78.1,1.3],[80.9,1.3],[82.6,0],[86,1.3],[90.4,1.3],[95,1.3],[97.2,0],[98.9,2],[100,0.7],[101.5,1.3]];
const dla_z_b = [[0,-1],[1.7,-0.7],[3.4,0.7],[5.1,1.3],[6.7,0],[7.9,-1.3],[9.6,0],[11.8,1.3],[13.5,1.3],[15.2,0.7],[16.9,-1],[18.5,-0.7],[20.2,0.7],[22.5,1],[24.2,2.7],[25.8,0],[27,-1.3],[28.4,1],[29.6,2.7],[30.9,-2.7],[32,0],[33.1,1],[34.3,3.3],[35.2,4.7],[36,0],[37.1,-7.7],[37.9,-3.3],[38.8,4],[39.7,7.3],[40.8,0],[41.9,-5],[42.9,-1.3],[43.8,4],[44.6,6.7],[45.3,0],[46.1,-9],[46.6,-11],[47.2,-1.3],[47.8,8.3],[48.1,13.3],[48.9,3.3],[49.4,-6],[50,-8.7],[50.8,1.3],[51.5,5],[52.3,0],[53.1,-3.7],[54,1.3],[54.7,4.3],[55.6,-1.3],[56.4,-3.7],[57.3,0.7],[58.1,4],[59,-0.7],[59.8,-3],[60.7,1.3],[61.5,3.7],[62.4,0],[63.3,-2.3],[64.3,0],[65,2.3],[65.7,-0.7],[66.6,-2],[67.4,0],[68,1.7],[68.9,-0.7],[69.8,2.3],[70.6,0],[71.6,-2.3],[72.5,0],[73.4,1.7],[74.2,0.7],[75.8,1],[78.1,1],[80.9,1],[82.6,0],[86,1],[90.4,1],[95,1.3],[97.2,0],[98.9,1.3],[101.5,1]];

// grouping: station -> component -> [black, red, green, blue]
const waveforms = [
  [[clt_n130_k, clt_n130_r, clt_n130_g, clt_n130_b], [clt_n40_k, clt_n40_r, clt_n40_g, clt_n40_b], [clt_z_k, clt_z_r, clt_z_g, clt_z_b]],
  [[rus_n130_k, rus_n130_r, rus_n130_g, rus_n130_b], [rus_n40_k, rus_n40_r, rus_n40_g, rus_n40_b], [rus_z_k, rus_z_r, rus_z_g, rus_z_b]],
  [[dla_n130_k, dla_n130_r, dla_n130_g, dla_n130_b], [dla_n40_k, dla_n40_r, dla_n40_g, dla_n40_b], [dla_z_k, dla_z_r, dla_z_g, dla_z_b]]
];
const amps = [clt_amps, rus_amps, dla_amps];

// layout
const traceColors = ['#000000', '#ff0000', '#008000', '#0040ff'];
const colLeft = [13, 331, 649];
const ampRight = [314, 634, 952];
const compCenter = [163, 482, 802];
const stationTop = [106.7, 441, 775];
const rowStep = 66.7;
const traceW = 301, traceH = 120, halfRange = 60;

const page = document.getElementById('page');

function addLabel(html, cls, style) {
  const d = document.createElement('div');
  d.className = 'lbl ' + cls;
  d.innerHTML = html;
  Object.assign(d.style, style);
  page.appendChild(d);
  return d;
}

function drawTrace(pts, color, left, base) {
  const c = document.createElement('canvas');
  c.width = traceW;
  c.height = traceH;
  c.style.left = left + 'px';
  c.style.top = (base - traceH / 2) + 'px';
  page.appendChild(c);
  new Chart(c, {
    type: 'line',
    data: {
      datasets: [{
        data: pts.map(p => ({ x: p[0], y: p[1] })),
        borderColor: color,
        borderWidth: 1.5,
        pointRadius: 0,
        cubicInterpolationMode: 'monotone',
        fill: false,
        clip: false
      }]
    },
    options: {
      responsive: false,
      animation: false,
      events: [],
      layout: { padding: 0 },
      plugins: { legend: { display: false }, tooltip: { enabled: false } },
      scales: {
        x: { type: 'linear', display: false, min: timeRange[0], max: timeRange[1] },
        y: { display: false, min: -halfRange, max: halfRange }
      }
    }
  });
}

// column headers
components.forEach((name, ci) => {
  const html = name === 'vertical' ? name : name + '<span class="deg">°</span>E';
  addLabel(html, 'comp', { left: (compCenter[ci] - 100) + 'px' });
});

stations.forEach((st, si) => {
  addLabel(st, 'sta', { top: (stationTop[si] - 41) + 'px' });
  components.forEach((_, ci) => {
    waveforms[si][ci].forEach((pts, k) => {
      const base = stationTop[si] + k * rowStep;
      drawTrace(pts, traceColors[k], colLeft[ci], base);
      addLabel(String(amps[si][ci][k]), 'amp', {
        left: (ampRight[ci] - 60) + 'px',
        top: (base - 27) + 'px',
        color: traceColors[k]
      });
    });
  });
});

// time scale bar drawn as a Chart.js axis (0 s sits at x = 18, 60 s at x = 196)
const bar = document.createElement('canvas');
bar.width = 224;
bar.height = 66;
bar.style.left = '-2px';
bar.style.top = '1030px';
page.appendChild(bar);
new Chart(bar, {
  type: 'line',
  data: { datasets: [] },
  options: {
    responsive: false,
    animation: false,
    events: [],
    layout: { padding: { left: 20, right: 26, top: 0, bottom: 0 } },
    plugins: { legend: { display: false }, tooltip: { enabled: false } },
    scales: {
      x: {
        type: 'linear', position: 'bottom',
        min: scaleTicks[0], max: scaleTicks[1],
        afterFit: s => { s.height = 58; },
        afterBuildTicks: s => { s.ticks = scaleTicks.map(v => ({ value: v })); },
        border: { display: true, color: '#333', width: 1.2 },
        grid: { drawOnChartArea: false, drawTicks: true, tickLength: 11, color: '#333', lineWidth: 1.2 },
        ticks: { color: '#000', padding: 10, maxRotation: 0, font: { family: 'DejaVu Sans', size: 21 } },
        title: { display: true, text: 'seconds', color: '#000', padding: 0, font: { family: 'DejaVu Sans', size: 21 } }
      },
      y: { display: false, min: 0, max: 1 }
    }
  }
});
</script>
</body>
</html>
